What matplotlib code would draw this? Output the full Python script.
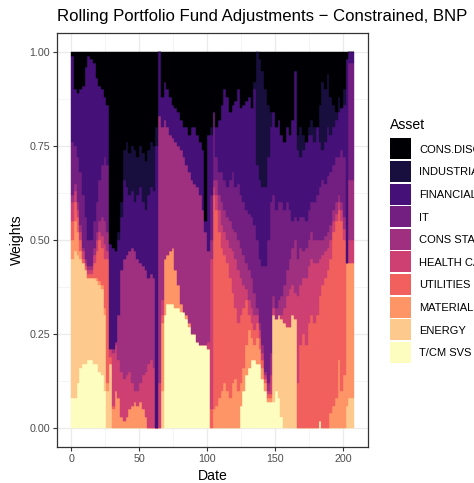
import numpy as np
import matplotlib
matplotlib.use("Agg")
import matplotlib.pyplot as plt
from matplotlib.patches import Rectangle

plt.rcParams["font.family"] = ["Liberation Sans", "DejaVu Sans"]

# rebalancing dates (every second period)
dates = np.arange(0, 208, 2)

# stacking order, bottom to top
assets = ["T/CM SVS", "ENERGY", "MATERIALS", "UTILITIES", "HEALTH CARE",
          "CONS STAPLES", "IT", "FINANCIALS", "INDUSTRIALS", "CONS.DISC"]
colors = ["#FCFDBF", "#FEC98D", "#FD9567", "#F1605D", "#CD4071",
          "#9F2F7F", "#721F81", "#451077", "#180F3E", "#000004"]

# cumulative weight at the top of each asset's band
top_tcm = [
    .08, .08, .12, .16, .17, .17, .18, .18, .17, .17, .15, .14, .10,
    0, 0, 0, 0, 0, 0, 0, 0, 0, 0, 0, 0, 0,
    0, 0, 0, 0, 0, 0, 0, 0, .30, .33, .33, .33, .32,
    .32, .31, .31, .29, .27, .25, .25, .23, .22, .22, .22, .21, 0,
    0, 0, 0, 0, 0, 0, 0, 0, 0, 0, .06, .10, .14,
    .16, .18, .18, .17, .17, .13, .10, .07, .07, .07, .10, .08, .03,
    0, 0, 0, 0, 0, 0, 0, 0, 0, 0, 0, 0, 0,
    .02, 0, 0, 0, 0, 0, 0, 0, 0, 0, 0, 0, 0,
]
top_energy = [
    .45, .47, .46, .45, .44, .42, .40, .40, .40, .39, .38, .37, .30,
    .10, .17, 0, 0, 0, 0, 0, 0, 0, 0, 0, 0, 0,
    0, 0, 0, 0, 0, 0, 0, .10, .30, .33, .33, .33, .32,
    .32, .31, .31, .29, .27, .25, .25, .23, .22, .22, .22, .21, 0,
    0, 0, 0, 0, 0, 0, 0, 0, 0, 0, .06, .10, .14,
    .16, .18, .18, .17, .17, .13, .10, .07, .07, .30, .29, .30, .29,
    .28, .27, .27, .30, .29, 0, 0, 0, 0, 0, 0, 0, 0,
    .02, 0, 0, 0, 0, 0, 0, 0, 0, 0, .06, .08, .08,
]
top_materials = [
    .50, .55, .52, .47, .44, .42, .40, .40, .40, .40, .39, .38, .32,
    .12, .17, .05, .10, .08, .03, .02, .03, .05, .06, .07, .06, .07,
    .05, .03, 0, 0, 0, 0, 0, .28, .45, .46, .47, .48, .42,
    .38, .33, .31, .30, .28, .25, .25, .23, .22, .22, .22, .21, 0,
    .05, .06, .08, .10, .12, .10, .08, .12, .13, .10, .12, .16, .22,
    .26, .24, .22, .24, .21, .16, .12, .08, .08, .30, .29, .30, .29,
    .28, .27, .27, .30, .29, 0, 0, 0, 0, 0, 0, 0, 0,
    .02, 0, 0, 0, .04, .06, .08, .18, .10, .14, .44, .44, .44,
]
top_utilities = [
    .55, .60, .56, .50, .45, .43, .41, .41, .44, .47, .50, .48, .45,
    .45, .19, .06, .10, .08, .03, .02, .03, .05, .06, .07, .06, .07,
    .05, .03, 0, 0, 0, 0, 0, .30, .45, .46, .47, .48, .42,
    .38, .33, .31, .30, .28, .25, .25, .23, .22, .22, .22, .21, .05,
    .62, .58, .52, .48, .46, .44, .40, .36, .32, .28, .30, .32, .34,
    .30, .28, .26, .28, .24, .18, .13, .09, .09, .30, .29, .30, .29,
    .28, .27, .27, .30, .29, .12, .22, .25, .22, .28, .30, .28, .30,
    .35, .38, .40, .42, .45, .52, .55, .58, .55, .50, .44, .44, .44,
]
top_health = [
    .60, .63, .58, .52, .47, .44, .42, .42, .46, .50, .52, .51, .49,
    .47, .21, .20, .22, .18, .15, .13, .14, .15, .12, .10, .10, .12,
    .14, .15, .17, .18, .16, 0, .12, .34, .45, .46, .47, .48, .42,
    .38, .33, .31, .30, .28, .25, .25, .23, .22, .22, .22, .23, .45,
    .64, .62, .58, .54, .52, .50, .48, .47, .45, .42, .40, .38, .37,
    .34, .32, .30, .30, .26, .20, .14, .10, .14, .32, .29, .30, .30,
    .32, .35, .37, .38, .36, .35, .38, .40, .40, .43, .45, .44, .44,
    .45, .46, .47, .48, .50, .55, .57, .60, .58, .53, .44, .50, .50,
]
top_staples = [
    .62, .65, .60, .54, .48, .45, .43, .43, .48, .52, .55, .56, .55,
    .52, .21, .21, .23, .30, .42, .45, .46, .47, .48, .47, .45, .44,
    .43, .42, .40, .41, .40, 0, .83, .80, .82, .80, .78, .77, .76,
    .75, .74, .72, .70, .68, .66, .65, .64, .62, .58, .52, .47, .50,
    .66, .66, .62, .60, .58, .56, .55, .53, .52, .50, .48, .46, .44,
    .42, .40, .36, .32, .28, .22, .15, .12, .20, .35, .32, .34, .35,
    .38, .42, .45, .48, .50, .45, .48, .47, .48, .50, .52, .50, .50,
    .50, .50, .51, .52, .54, .58, .60, .62, .60, .56, .44, .66, .66,
]
top_it = [
    .76, .75, .72, .68, .62, .56, .50, .50, .55, .60, .66, .70, .72,
    .70, .21, .21, .23, .30, .42, .45, .46, .47, .48, .47, .45, .44,
    .43, .42, .40, .41, .40, 0, .83, .80, .82, .80, .78, .77, .76,
    .75, .74, .72, .70, .68, .66, .65, .64, .62, .58, .52, .47, .62,
    .84, .72, .68, .68, .66, .64, .66, .68, .64, .65, .62, .60, .58,
    .57, .56, .54, .50, .45, .43, .43, .50, .60, .62, .58, .60, .60,
    .58, .60, .58, .55, .56, .55, .56, .56, .55, .58, .60, .60, .62,
    .64, .66, .65, .67, .68, .70, .72, .72, .74, .72, .44, .97, .97,
]
top_financials = [
    .99, .90, .89, .90, .91, .96, .99, .98, .97, .93, .91, .90, .88,
    .86, .49, .48, .47, .50, .56, .66, .64, .62, .63, .60, .62, .64,
    .60, .58, .62, .64, .63, .75, 1.0, .88, .92, .90, .88, .86, .85,
    .84, .82, .80, .80, .78, .80, .80, .78, .76, .74, .55, .78, .78,
    .84, .80, .82, .86, .90, .88, .84, .86, .87, .90, .85, .86, .87,
    .88, .85, .90, .70, .66, .64, .64, .72, .80, .84, .80, .82, .78,
    .76, .80, .78, .82, .95, .74, .72, .74, .76, .78, .78, .76, .80,
    .76, .74, .76, .80, .78, .80, .82, .84, .85, .86, .98, 1.0, 1.0,
]
top_industrials = [
    .99, .90, .89, .90, .91, .96, .99, .98, .97, .93, .91, .90, .88,
    .86, .49, .48, .47, .52, .60, .74, .76, .73, .75, .74, .72, .75,
    .73, .71, .74, .76, .75, .80, 1.0, .88, .92, .90, .88, .86, .85,
    .84, .82, .80, .80, .78, .80, .80, .78, .76, .74, .55, .78, .80,
    .84, .80, .82, .86, .90, .88, .84, .86, .87, .90, .85, .86, .87,
    .88, .85, .92, 1.0, .98, .95, .90, .86, .84, .84, .80, .82, .78,
    .76, .80, .78, .82, .95, .78, .80, .78, .76, .80, .82, .80, .80,
    .86, .92, .90, .94, .88, .86, .84, .88, .85, .90, .98, 1.0, 1.0,
]

tops = np.array([top_tcm, top_energy, top_materials, top_utilities,
                 top_health, top_staples, top_it, top_financials,
                 top_industrials, np.ones(len(dates))])
bottoms = np.vstack([np.zeros(len(dates)), tops[:-1]])
weights = np.clip(tops - bottoms, 0, None)

fig = plt.figure(figsize=(4.74, 4.83), dpi=100)
W, H = 474, 483
ax = fig.add_axes([57 / W, 1 - 447 / H, (368 - 57) / W, (447 - 33) / H])

for i, asset in enumerate(assets):
    ax.bar(dates, weights[i], bottom=bottoms[i], width=2, align="edge",
           color=colors[i], edgecolor=colors[i], linewidth=0.3, label=asset)

ax.set_xlim(-10.4, 218.4)
ax.set_ylim(-0.05, 1.05)
ax.set_xticks([0, 50, 100, 150, 200])
ax.set_xticks([25, 75, 125, 175], minor=True)
ax.set_yticks([0, 0.25, 0.5, 0.75, 1.0])
ax.set_yticklabels(["0.00", "0.25", "0.50", "0.75", "1.00"])
ax.set_yticks([0.125, 0.375, 0.625, 0.875], minor=True)

ax.set_axisbelow(True)
ax.grid(which="major", color="#EBEBEB", linewidth=0.9)
ax.grid(which="minor", color="#F2F2F2", linewidth=0.5)
for sp in ax.spines.values():
    sp.set_color("#333333")
    sp.set_linewidth(0.9)
ax.tick_params(which="major", length=2.9, width=0.8, color="#333333",
               labelsize=7.7, labelcolor="#4D4D4D", pad=2.2)
ax.tick_params(which="minor", length=0)

fig.text(57 / W, 1 - 21 / H, "Rolling Portfolio Fund Adjustments \u2212 Constrained, BNP",
         fontsize=12.1, ha="left", va="baseline", color="black")
fig.text(212.5 / W, 1 - 480 / H, "Date", fontsize=10.1, ha="center", va="baseline")
fig.text(17 / W, 1 - 240 / H, "Weights", fontsize=10.1, rotation=90,
         ha="center", va="center")

# legend, top entry first
fig.text(390 / W, 1 - 129 / H, "Asset", fontsize=10.1, ha="left", va="baseline")
for k, i in enumerate(range(len(assets) - 1, -1, -1)):
    top = 138.3 + 22.6 * k
    fig.patches.append(Rectangle((390 / W, 1 - (top + 21) / H), 21 / W, 21 / H,
                                 transform=fig.transFigure, facecolor=colors[i],
                                 edgecolor="none"))
    fig.text(419 / W, 1 - (top + 10.5) / H, assets[i], fontsize=8.0,
             ha="left", va="center_baseline", color="black")

fig.savefig("out.png", dpi=100)
